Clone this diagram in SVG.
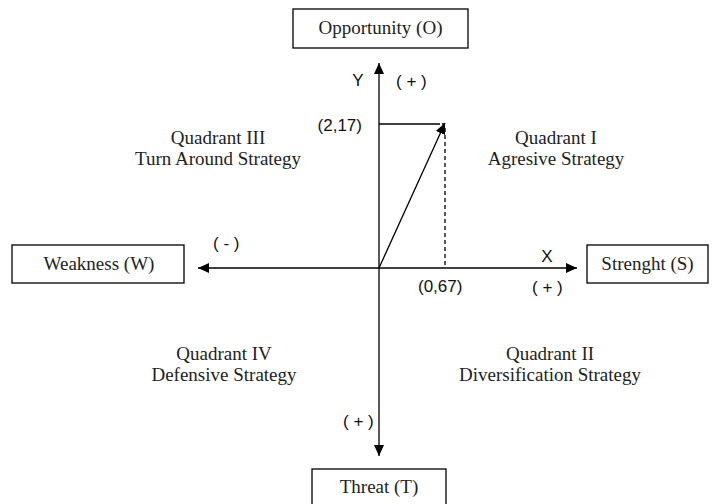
<svg xmlns="http://www.w3.org/2000/svg" width="712" height="504" viewBox="0 0 712 504">
<style>
.box{fill:#fff;stroke:#000;stroke-width:1.3}
.serif{font-family:"Liberation Serif","Times New Roman",serif;font-size:19px;fill:#222}
.sans{font-family:"Liberation Sans",Arial,sans-serif;font-size:17px;fill:#111}
.ax{stroke:#000;stroke-width:1.3;fill:none}
.mid{text-anchor:middle}
</style>
<defs>
<marker id="ah" markerWidth="12" markerHeight="10" refX="11" refY="5" orient="auto" markerUnits="userSpaceOnUse">
<path d="M0,0 L11,5 L0,10 Z" fill="#000"/>
</marker>
</defs>
<rect width="712" height="504" fill="#fff"/>
<g id="connectors">
<line class="ax" x1="379" y1="268" x2="379" y2="63" marker-end="url(#ah)"/>
<line class="ax" x1="379" y1="268" x2="379" y2="456" marker-end="url(#ah)"/>
<line class="ax" x1="379" y1="268" x2="577" y2="268" marker-end="url(#ah)"/>
<line class="ax" x1="379" y1="268" x2="198" y2="268" marker-end="url(#ah)"/>
<line class="ax" x1="379" y1="268" x2="445" y2="123" marker-end="url(#ah)"/>
<line class="ax" x1="379" y1="124" x2="437" y2="124"/>
<line class="ax" x1="437" y1="124" x2="445" y2="124" stroke-dasharray="3,2"/>
<line class="ax" x1="445" y1="128" x2="445" y2="268" stroke-dasharray="4,3"/>
</g>
<g id="opportunity">
<rect class="box" x="293" y="9" width="175" height="39"/>
<text class="serif mid" x="380.500" y="34">Opportunity (O)</text>
</g>
<g id="weakness">
<rect class="box" x="12" y="245" width="172" height="38"/>
<text class="serif mid" x="99" y="270">Weakness (W)</text>
</g>
<g id="strength">
<rect class="box" x="587" y="245" width="121" height="38"/>
<text class="serif mid" x="647.500" y="270">Strenght (S)</text>
</g>
<g id="threat">
<rect class="box" x="312" y="469" width="134" height="42"/>
<text class="serif mid" x="379" y="493">Threat (T)</text>
</g>
<g id="labels">
<text class="sans mid" x="358" y="86">Y</text>
<text class="sans" x="396" y="87">( + )</text>
<text class="sans" x="362" y="131" text-anchor="end">(2,17)</text>
<text class="sans mid" x="547" y="262">X</text>
<text class="sans" x="418" y="292">(0,67)</text>
<text class="sans" x="532" y="293">( + )</text>
<text class="sans" x="213" y="249">( - )</text>
<text class="sans" x="343" y="427">( + )</text>
</g>
<g id="quadrant3">
<text class="serif mid" x="218" y="144">Quadrant III</text>
<text class="serif mid" x="218" y="165">Turn Around Strategy</text>
</g>
<g id="quadrant1">
<text class="serif mid" x="556" y="144">Quadrant I</text>
<text class="serif mid" x="556" y="165">Agresive Strategy</text>
</g>
<g id="quadrant4">
<text class="serif mid" x="224" y="360">Quadrant IV</text>
<text class="serif mid" x="224" y="381">Defensive Strategy</text>
</g>
<g id="quadrant2">
<text class="serif mid" x="550" y="360">Quadrant II</text>
<text class="serif mid" x="550" y="381">Diversification Strategy</text>
</g>
</svg>
